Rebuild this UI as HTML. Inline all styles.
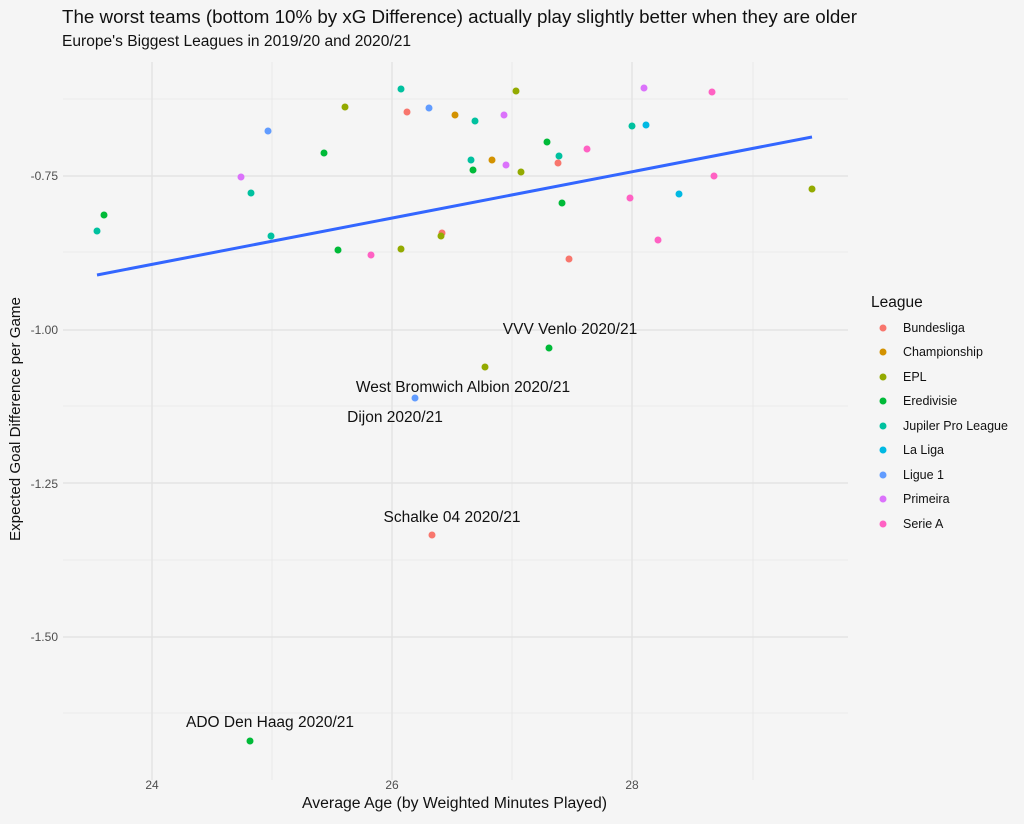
<!DOCTYPE html><html><head><style>body{margin:0;background:#f5f5f5}</style></head><body>
<svg width="1024" height="819" xmlns="http://www.w3.org/2000/svg" font-family="Liberation Sans, sans-serif">
<rect width="1024" height="819" fill="#f5f5f5"/>
<g stroke="#e6e6e6" stroke-width="0.8">
<line x1="63" x2="848" y1="99" y2="99"/><line x1="63" x2="848" y1="252" y2="252"/><line x1="63" x2="848" y1="406" y2="406"/><line x1="63" x2="848" y1="560" y2="560"/><line x1="63" x2="848" y1="713" y2="713"/>
<line x1="272" x2="272" y1="62" y2="780"/><line x1="512" x2="512" y1="62" y2="780"/><line x1="753" x2="753" y1="62" y2="780"/>
</g>
<g stroke="#e3e3e3" stroke-width="1.4">
<line x1="63" x2="848" y1="176" y2="176"/><line x1="63" x2="848" y1="330" y2="330"/><line x1="63" x2="848" y1="483" y2="483"/><line x1="63" x2="848" y1="637" y2="637"/>
<line x1="152" x2="152" y1="62" y2="780"/><line x1="392" x2="392" y1="62" y2="780"/><line x1="632" x2="632" y1="62" y2="780"/>
</g>
<g>
<circle cx="97" cy="231" r="3.5" fill="#00C19F"/><circle cx="104" cy="215" r="3.5" fill="#00BA38"/><circle cx="241" cy="177" r="3.5" fill="#DB72FB"/><circle cx="251" cy="193" r="3.5" fill="#00C19F"/><circle cx="268" cy="131" r="3.5" fill="#619CFF"/><circle cx="271" cy="236" r="3.5" fill="#00C19F"/><circle cx="324" cy="153" r="3.5" fill="#00BA38"/><circle cx="338" cy="250" r="3.5" fill="#00BA38"/><circle cx="345" cy="107" r="3.5" fill="#93AA00"/><circle cx="371" cy="255" r="3.5" fill="#FF61C3"/><circle cx="401" cy="249" r="3.5" fill="#93AA00"/><circle cx="401" cy="89" r="3.5" fill="#00C19F"/><circle cx="407" cy="112" r="3.5" fill="#F8766D"/><circle cx="429" cy="108" r="3.5" fill="#619CFF"/><circle cx="442" cy="233" r="3.5" fill="#F8766D"/><circle cx="441" cy="236" r="3.5" fill="#93AA00"/><circle cx="455" cy="115" r="3.5" fill="#D39200"/><circle cx="475" cy="121" r="3.5" fill="#00C19F"/><circle cx="504" cy="115" r="3.5" fill="#DB72FB"/><circle cx="516" cy="91" r="3.5" fill="#93AA00"/><circle cx="471" cy="160" r="3.5" fill="#00C19F"/><circle cx="492" cy="160" r="3.5" fill="#D39200"/><circle cx="473" cy="170" r="3.5" fill="#00BA38"/><circle cx="506" cy="165" r="3.5" fill="#DB72FB"/><circle cx="521" cy="172" r="3.5" fill="#93AA00"/><circle cx="547" cy="142" r="3.5" fill="#00BA38"/><circle cx="559" cy="156" r="3.5" fill="#00C19F"/><circle cx="558" cy="163" r="3.5" fill="#F8766D"/><circle cx="587" cy="149" r="3.5" fill="#FF61C3"/><circle cx="562" cy="203" r="3.5" fill="#00BA38"/><circle cx="630" cy="198" r="3.5" fill="#FF61C3"/><circle cx="632" cy="126" r="3.5" fill="#00C19F"/><circle cx="646" cy="125" r="3.5" fill="#00B9E3"/><circle cx="644" cy="88" r="3.5" fill="#DB72FB"/><circle cx="712" cy="92" r="3.5" fill="#FF61C3"/><circle cx="714" cy="176" r="3.5" fill="#FF61C3"/><circle cx="679" cy="194" r="3.5" fill="#00B9E3"/><circle cx="812" cy="189" r="3.5" fill="#93AA00"/><circle cx="658" cy="240" r="3.5" fill="#FF61C3"/><circle cx="569" cy="259" r="3.5" fill="#F8766D"/>
<circle cx="485" cy="367" r="3.5" fill="#93AA00"/><circle cx="549" cy="348" r="3.5" fill="#00BA38"/><circle cx="415" cy="398" r="3.5" fill="#619CFF"/><circle cx="432" cy="535" r="3.5" fill="#F8766D"/><circle cx="250" cy="741" r="3.5" fill="#00BA38"/>
</g>
<line x1="97" y1="275" x2="812" y2="137" stroke="#3366FF" stroke-width="3"/>
<g font-size="15.5" fill="#111" text-anchor="middle">
<text x="570" y="334">VVV Venlo 2020/21</text><text x="463" y="392">West Bromwich Albion 2020/21</text><text x="395" y="422">Dijon 2020/21</text><text x="452" y="522">Schalke 04 2020/21</text><text x="270" y="727">ADO Den Haag 2020/21</text>
</g>
<g font-size="12" fill="#4d4d4d" text-anchor="end">
<text x="58" y="180">-0.75</text><text x="58" y="334">-1.00</text><text x="58" y="488">-1.25</text><text x="58" y="641">-1.50</text>
</g>
<g font-size="12" fill="#4d4d4d" text-anchor="middle">
<text x="152" y="789">24</text><text x="392" y="789">26</text><text x="632" y="789">28</text>
</g>
<text x="302" y="808" font-size="15.5" fill="#111" textLength="305" lengthAdjust="spacingAndGlyphs">Average Age (by Weighted Minutes Played)</text>
<text transform="translate(20,541) rotate(-90)" font-size="15" fill="#111" textLength="244" lengthAdjust="spacingAndGlyphs">Expected Goal Difference per Game</text>
<text x="62" y="23" font-size="18.7" fill="#111" textLength="795" lengthAdjust="spacingAndGlyphs">The worst teams (bottom 10% by xG Difference) actually play slightly better when they are older</text>
<text x="62" y="46" font-size="15.5" fill="#111" textLength="349" lengthAdjust="spacingAndGlyphs">Europe's Biggest Leagues in 2019/20 and 2020/21</text>
<text x="871" y="307" font-size="15.5" fill="#111">League</text>
<g font-size="12.5" fill="#111">
<circle cx="883" cy="328" r="3.5" fill="#F8766D"/><text x="903" y="332">Bundesliga</text>
<circle cx="883" cy="352" r="3.5" fill="#D39200"/><text x="903" y="356">Championship</text>
<circle cx="883" cy="377" r="3.5" fill="#93AA00"/><text x="903" y="381">EPL</text>
<circle cx="883" cy="401" r="3.5" fill="#00BA38"/><text x="903" y="405">Eredivisie</text>
<circle cx="883" cy="426" r="3.5" fill="#00C19F"/><text x="903" y="430">Jupiler Pro League</text>
<circle cx="883" cy="450" r="3.5" fill="#00B9E3"/><text x="903" y="454">La Liga</text>
<circle cx="883" cy="475" r="3.5" fill="#619CFF"/><text x="903" y="479">Ligue 1</text>
<circle cx="883" cy="499" r="3.5" fill="#DB72FB"/><text x="903" y="503">Primeira</text>
<circle cx="883" cy="524" r="3.5" fill="#FF61C3"/><text x="903" y="528">Serie A</text>
</g>
</svg></body></html>
